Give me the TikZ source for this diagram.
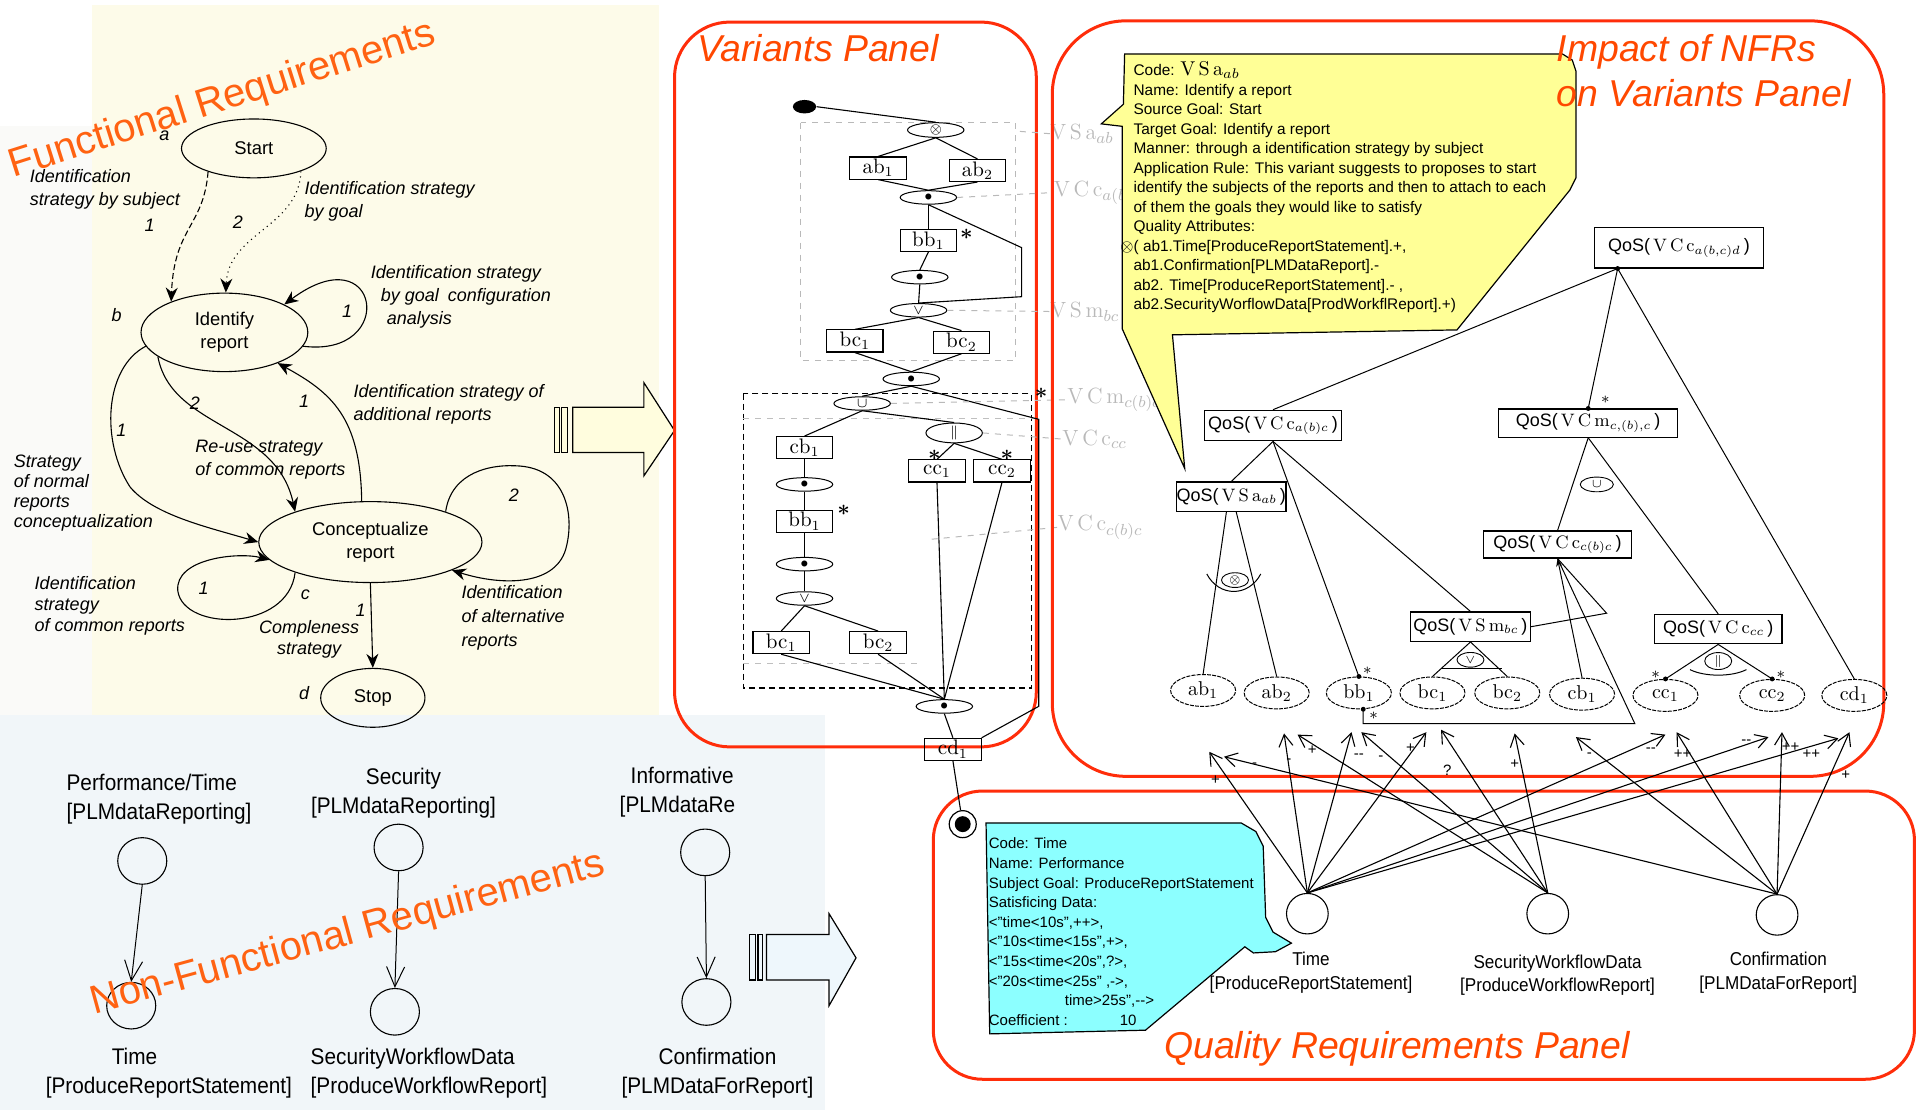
\documentclass[tikz,border=0pt]{standalone}
\usepackage{amsmath,amssymb}
\usepackage{fontspec}
\setsansfont{Liberation Sans}
\newfontfamily\narrowsf[FakeStretch=0.92]{Liberation Sans}
\usepackage{tikz}
\usetikzlibrary{shapes.geometric, arrows.meta, positioning}

\definecolor{frback}{RGB}{253,251,233}
\definecolor{nfrback}{RGB}{241,246,249}
\definecolor{sideback}{RGB}{250,250,248}
\definecolor{titleorange}{RGB}{255,98,18}
\definecolor{titlered}{RGB}{255,72,0}
\definecolor{panelred}{RGB}{255,45,10}
\definecolor{noteyellow}{RGB}{255,255,150}
\definecolor{notecyan}{RGB}{140,255,255}
\definecolor{codegrey}{RGB}{185,185,185}
\definecolor{arrowyellow}{RGB}{255,253,222}
\definecolor{arrowblue}{RGB}{238,247,252}

\newlength\dpx
\setlength\dpx{0.6132pt}
\newcommand{\qos}[1]{{\sffamily QoS(}\,#1\,{\sffamily)}}
\newcommand{\varcode}[2]{$\mathrm{#1}_{#2}$}

\begin{document}
\begin{tikzpicture}[
    x=0.6132pt, y=-0.6132pt,
    >=Stealth,
    panel/.style={draw=panelred, line width=1.5pt, rounded corners=#1},
    paneltitle/.style={text=titlered, font=\sffamily\itshape\fontsize{18.7}{22.7}\selectfont,
                       inner sep=0pt, anchor=base west, align=left},
    bigtitle/.style={text=titleorange, font=\sffamily\fontsize{20}{24}\selectfont,
                     inner sep=0pt, anchor=base},
    goal/.style={draw, ellipse, line width=0.55pt, inner sep=0pt, align=center,
                 font=\sffamily\fontsize{9.2}{11.5}\selectfont},
    strat/.style={font=\sffamily\itshape\fontsize{9}{11.5}\selectfont, align=left, inner sep=0pt},
    mapfl/.style={-{Stealth[length=7pt, width=6pt]}, line width=0.55pt},
    nfr/.style={draw, ellipse, line width=0.55pt, minimum width=40\dpx, minimum height=38\dpx,
                inner sep=0pt},
    nfrname/.style={font=\narrowsf\fontsize{11.3}{14.5}\selectfont, align=center, inner sep=0pt},
    nfrlink/.style={-{Straight Barb[length=10pt, width=9pt]}, line width=0.5pt},
    hollow/.style={draw, line width=0.6pt},
    vbox/.style={draw, rectangle, line width=0.55pt, minimum width=46\dpx, minimum height=18\dpx,
                 inner sep=0pt, font=\fontsize{10.5}{11}\selectfont},
    vop/.style={draw, ellipse, line width=0.5pt, minimum width=46\dpx, minimum height=11\dpx,
                inner sep=0pt, font=\fontsize{7}{7}\selectfont},
    vlink/.style={line width=0.55pt},
    vcode/.style={text=codegrey, font=\fontsize{11}{12}\selectfont, inner sep=0pt, anchor=west},
    leader/.style={draw=codegrey, dashed, line width=0.5pt},
    starmark/.style={font=\fontsize{11}{11}\selectfont, inner sep=0pt},
    qos/.style={draw, rectangle, line width=0.55pt, inner sep=0pt, font=\fontsize{9}{10}\selectfont},
    qleaf/.style={draw, ellipse, dash pattern=on 2pt off 0.6pt, line width=0.5pt, minimum width=53\dpx,
                  minimum height=26\dpx, inner sep=0pt, font=\fontsize{10}{11}\selectfont},
    qop/.style={draw, ellipse, line width=0.45pt, minimum width=22\dpx, minimum height=12\dpx,
                inner sep=0pt, font=\fontsize{6}{6}\selectfont},
    qlink/.style={line width=0.5pt},
    joint/.style={fill, circle, inner sep=0pt, minimum size=4\dpx},
    impact/.style={-{Straight Barb[length=6pt, width=7pt]}, line width=0.55pt},
    sign/.style={font=\sffamily\fontsize{7.5}{8}\selectfont, inner sep=0pt},
    softgoal/.style={draw, ellipse, line width=0.55pt, minimum width=34\dpx,
                     minimum height=33\dpx, inner sep=0pt},
    qname/.style={font=\narrowsf\fontsize{9.3}{11.7}\selectfont, align=center, inner sep=0pt},
    note/.style={font=\sffamily\fontsize{7.7}{9.75}\selectfont, align=left,
                 inner sep=0pt, anchor=north west},
]
\useasboundingbox (0,0) rectangle (1568,905);

% === backgrounds of the two requirement maps ===
\fill[sideback] (0,103) rectangle (75,583);
\fill[frback] (75,4) rectangle (537,583);
\fill[nfrback] (0,583) rectangle (673,905);

% === Functional requirements: intention/strategy map ===
\node[goal, minimum width=118\dpx, minimum height=48\dpx] (start) at (207,121) {Start};
\node[goal, minimum width=136\dpx, minimum height=64\dpx] (identify) at (183,271) {Identify\\report};
\node[goal, minimum width=182\dpx, minimum height=66\dpx] (concept) at (302,442) {Conceptualize\\report};
\node[goal, minimum width=85\dpx, minimum height=48\dpx] (stop) at (304,569) {Stop};

\draw[mapfl, dash pattern=on 3pt off 1.5pt] (start.207) .. controls (166,185) and (142,185) .. (identify.150);
\draw[mapfl, dotted] (start.334) .. controls (244,185) and (186,190) .. (identify.88);
\draw[mapfl] (identify.-10) .. controls (325,292) and (310,190) .. (identify.25);
\draw[mapfl] (identify.200) .. controls (140,350) and (225,345) .. (concept.158);
\draw[mapfl] (concept.102) .. controls (294,340) and (270,320) .. (identify.-30);
\draw[mapfl] (identify.190) .. controls (85,300) and (82,360) .. (106,397)
    .. controls (125,420) and (170,430) .. (concept.west);
\draw[mapfl] (concept.202) .. controls (235,515) and (150,515) .. (145,482)
    .. controls (142,455) and (195,450) .. (concept.190);
\draw[mapfl] (concept.22) .. controls (368,385) and (400,378) .. (424,380)
    .. controls (462,383) and (468,420) .. (462,445)
    .. controls (455,478) and (410,478) .. (concept.-19);
\draw[mapfl] (concept.south) -- (stop.north);

% section labels and strategy names
\node[strat] at (134,111) {a};
\node[strat] at (95,257) {b};
\node[strat] at (249,485) {c};
\node[strat] at (248,565) {d};
\node[strat] at (122,184) {1};
\node[strat] at (194,181) {2};
\node[strat] at (283,254) {1};
\node[strat] at (159,329) {2};
\node[strat] at (248,327) {1};
\node[strat] at (99,351) {1};
\node[strat] at (419,404) {2};
\node[strat] at (166,480) {1};
\node[strat] at (294,498) {1};
\node[strat, anchor=west] (sbysubj) at (24,154) {Identification\\strategy by subject};
\node[strat, anchor=west] (sbygoal) at (248,164) {Identification strategy\\by goal};
\node[strat, anchor=west] (sconfig) at (302,242)
    {Identification strategy\\\hspace*{5pt}by goal\enspace configuration\\\hspace*{8pt}analysis};
\node[strat, anchor=west] (sadd) at (288,330) {Identification strategy of\\additional reports};
\node[strat, anchor=west] (sreuse) at (159,375) {Re-use strategy\\of common reports};
\node[strat, anchor=west, font=\sffamily\itshape\fontsize{9}{10}\selectfont] (snormal) at (11,402)
    {Strategy\\of normal\\reports\\conceptualization};
\node[strat, anchor=west, font=\sffamily\itshape\fontsize{9}{10.7}\selectfont] (scommon) at (28,494)
    {Identification\\strategy\\of common reports};
\node[strat, align=center, font=\sffamily\itshape\fontsize{9}{10.4}\selectfont] (scomplete) at (252,521)
    {Compleness\\strategy};
\node[strat, anchor=west, font=\sffamily\itshape\fontsize{9}{12}\selectfont] (salt) at (376,504)
    {Identification\\of alternative\\reports};

% === Non-functional requirements ===
\node[nfr] (perf) at (116,702) {};
\node[nfr] (time) at (107,820) {};
\node[nfr] (secu) at (325,691) {};
\node[nfr] (swfd) at (322,825) {};
\node[nfr] (info) at (575,695) {};
\node[nfr] (conf) at (576,817) {};
\draw[nfrlink] (perf.south) -- (time.north);
\draw[nfrlink] (secu.south) -- (swfd.north);
\draw[nfrlink] (info.south) -- (conf.north);

\node[nfrname, align=left, anchor=west] at (54,652) {Performance/Time\\{}[PLMdataReporting]};
\node[nfrname] at (329,647) {Security\\{}[PLMdataReporting]};
\begin{scope}
  \clip (480,615) rectangle (600,675);
  \node[nfrname, align=left, anchor=west] at (505,646) {\hspace*{5.5pt}Informative\\{}[PLMdataReporting]};
\end{scope}
\node[nfrname, align=left, anchor=west] at (37,875) {\hspace*{33pt}Time\\{}[ProduceReportStatement]};
\node[nfrname, align=left, anchor=west] at (253,875) {SecurityWorkflowData\\{}[ProduceWorkflowReport]};
\node[nfrname] at (585,875) {Confirmation\\{}[PLMDataForReport]};

% === hollow arrows into the panels ===
\filldraw[hollow, fill=arrowyellow] (452,332) rectangle (456,369);
\filldraw[hollow, fill=arrowyellow] (458,332) rectangle (463,369);
\filldraw[hollow, fill=arrowyellow] (467,332) -- (525,332) -- (525,312) -- (550,351)
    -- (525,388) -- (525,369) -- (467,369) -- cycle;
\filldraw[hollow, fill=arrowblue] (611,762) rectangle (616,799);
\filldraw[hollow, fill=arrowblue] (618,762) rectangle (622,799);
\filldraw[hollow, fill=arrowblue] (625,762) -- (676,762) -- (676,745) -- (698,781)
    -- (676,820) -- (676,799) -- (625,799) -- cycle;

% === Variants panel ===
\draw[panel=45\dpx] (550,18) rectangle (845,609);
\node[paneltitle] at (568,50) {Variants Panel};

\draw[draw=gray!55, dashed, line width=0.5pt] (653,100) rectangle (828,294);
\draw[densely dashed, line width=0.6pt] (606,321) rectangle (841,561);
\draw[gray!50, dashed, line width=0.5pt] (606,341) -- (845,341);
\draw[gray!50, dashed, line width=0.5pt] (606,541) -- (748,541);

\node[fill, ellipse, minimum width=19\dpx, minimum height=11\dpx, inner sep=0pt] (vstart) at (656,87) {};
\node[vop] (vxor) at (763,106) {$\otimes$};
\node[vbox] (vab1) at (716,137) {ab$_1$};
\node[vbox] (vab2) at (797,139) {ab$_2$};
\node[vop] (vand1) at (757,161) {$\bullet$};
\node[vbox] (vbb1) at (757,196) {bb$_1$};
\node[vop] (vand2) at (750,226) {$\bullet$};
\node[vop] (vor1) at (749,253) {$\vee$};
\node[vbox] (vbc1) at (697,278) {bc$_1$};
\node[vbox] (vbc2) at (784,279) {bc$_2$};
\node[vop] (vand3) at (743,309) {$\bullet$};
\node[vop] (vunion) at (703,329) {$\cup$};
\node[vop] (vpar) at (778,353) {$\parallel$};
\node[vbox] (vcb1) at (656,365) {cb$_1$};
\node[vbox] (vcc1) at (764,384) {cc$_1$};
\node[vbox] (vcc2) at (817,384) {cc$_2$};
\node[vop] (vand4) at (656,395) {$\bullet$};
\node[vbox] (vbb1b) at (656,425) {bb$_1$};
\node[vop] (vand5) at (656,460) {$\bullet$};
\node[vop] (vor2) at (656,488) {$\vee$};
\node[vbox] (vbc1b) at (637,524) {bc$_1$};
\node[vbox] (vbc2b) at (716,524) {bc$_2$};
\node[vop] (vand6) at (770,576) {$\bullet$};
\node[vbox] (vcd1) at (777,611) {cd$_1$};

\node[starmark] at (788,191) {$\boldsymbol{\ast}$};
\node[starmark] at (762,371) {$\boldsymbol{\ast}$};
\node[starmark] at (821,371) {$\boldsymbol{\ast}$};
\node[starmark] at (688,416) {$\boldsymbol{\ast}$};
\node[starmark] at (849,321) {$\boldsymbol{\ast}$};

\draw[vlink] (vstart.east) -- (vxor.north);
\draw[vlink] (vxor.south) -- (vab1.north);
\draw[vlink] (vxor.south) -- (vab2.north);
\draw[vlink] (vab1.south) -- (vand1.north);
\draw[vlink] (vab2.south) -- (vand1.north);
\draw[vlink] (vand1.south) -- (vbb1.north);
\draw[vlink] (vand1.south) -- ++(76,35) -- ++(0,40) -- (vor1.north);
\draw[vlink] (vbb1.south) -- (vand2.north);
\draw[vlink] (vand2.south) -- (vor1.north);
\draw[vlink] (vor1.south) -- (vbc1.north);
\draw[vlink] (vor1.south) -- (vbc2.north);
\draw[vlink] (vbc1.south) -- (vand3.north);
\draw[vlink] (vbc2.south) -- (vand3.north);
\draw[vlink] (vand3.south) -- (vunion.north);
\draw[vlink] (vand3.south) -- ++(104,27) -- ++(0,234) -- (vcd1.north east);
\draw[vlink] (vunion.south) -- (vcb1.north);
\draw[vlink] (vunion.south) -- (vpar.north);
\draw[vlink] (vpar.south) -- (vcc1.north);
\draw[vlink] (vpar.south) -- (vcc2.north);
\draw[vlink] (vcb1) -- (vand4);
\draw[vlink] (vand4) -- (vbb1b);
\draw[vlink] (vbb1b) -- (vand5);
\draw[vlink] (vand5) -- (vor2);
\draw[vlink] (vor2.south) -- (vbc1b.north);
\draw[vlink] (vor2.south) -- (vbc2b.north);
\draw[vlink] (vbc1b.south) -- (vand6.north);
\draw[vlink] (vbc2b.south) -- (vand6.north);
\draw[vlink] (vcc1.south) -- (vand6.north);
\draw[vlink] (vcc2.south) -- (vand6.north);
\draw[vlink] (vand6.south) -- (vcd1.north);

% variant codes beside the map
\node[vcode] (cVSa) at (856,109) {\varcode{V\,S\,a}{ab}};
\node[vcode] (cVCca) at (859,157) {\varcode{V\,C\,c}{a(b)}};
\node[vcode] (cVSm) at (856,254) {\varcode{V\,S\,m}{bc}};
\node[vcode] (cVCm) at (870,326) {\varcode{V\,C\,m}{c(b)c}};
\node[vcode] (cVCcc) at (866,358) {\varcode{V\,C\,c}{cc}};
\node[vcode] (cVCcb) at (862,430) {\varcode{V\,C\,c}{c(b)c}};
\draw[leader] (cVSa.west) -- ++(-26,-2);
\draw[leader] (vand1.east) -- (cVCca.west);
\draw[leader] (vor1.east) -- (cVSm.west);
\draw[leader] (vunion.east) -- (cVCm.west);
\draw[leader] (vpar.east) -- (cVCcc.west);
\draw[leader] (cVCcb.west) -- ++(-106,10);

% === Impact of NFRs on variants ===
\draw[panel=60\dpx] (858,17) rectangle (1536,633);

\filldraw[fill=noteyellow, line width=0.6pt] (917,44) -- (1274,44) -- (1282,49) -- (1285,58)
    -- (1285,145) -- (1280,155) -- (1188,269) -- (956,273) -- (966,382) -- (915,268)
    -- (915,103) -- (898,101) -- (916,85) -- cycle;
\node[note] (vsanote) at (924,50) {Code: {\fontsize{10}{9.75}\selectfont\varcode{V\,S\,a}{ab}}\\
    Name: Identify a report\\
    Source Goal: Start\\
    Target Goal: Identify a report\\
    Manner: through a identification strategy by subject\\
    Application Rule: This variant suggests to proposes to start\\
    identify the subjects of the reports and then to attach to each\\
    of them the goals they would like to satisfy\\
    Quality Attributes:\\
    \llap{$\otimes$}( ab1.Time[ProduceReportStatement].+,\\
    ab1.Confirmation[PLMDataReport].-\\
    ab2. Time[ProduceReportStatement].- ,\\
    ab2.SecurityWorflowData[ProdWorkflReport].+)};
\node[paneltitle] at (1269,87) {Impact of NFRs\\on Variants Panel};

\node[qos, minimum width=138\dpx, minimum height=33\dpx] (qA) at (1369,202) {\qos{\varcode{V\,C\,c}{a(b,c)d}}};
\node[qos, minimum width=112\dpx, minimum height=25\dpx] (qB) at (1038,347) {\qos{\varcode{V\,C\,c}{a(b)c}}};
\node[qos, minimum width=87\dpx, minimum height=24\dpx] (qC) at (1004,405) {\qos{\varcode{V\,S\,a}{ab}}};
\node[qos, minimum width=146\dpx, minimum height=23\dpx] (qD) at (1295,345) {\qos{\varcode{V\,C\,m}{c,(b),c}}};
\node[qos, minimum width=121\dpx, minimum height=22\dpx] (qE) at (1270,444) {\qos{\varcode{V\,C\,c}{c(b)c}}};
\node[qos, minimum width=98\dpx, minimum height=24\dpx] (qF) at (1199,511) {\qos{\varcode{V\,S\,m}{bc}}};
\node[qos, minimum width=104\dpx, minimum height=24\dpx] (qG) at (1401,513) {\qos{\varcode{V\,C\,c}{cc}}};

\node[qleaf] (eab1) at (981,563) {ab$_1$};
\node[qleaf] (eab2) at (1041,565) {ab$_2$};
\node[qleaf] (ebb1) at (1108,565) {bb$_1$};
\node[qleaf] (ebc1) at (1168,565) {bc$_1$};
\node[qleaf] (ebc2) at (1229,565) {bc$_2$};
\node[qleaf] (ecb1) at (1290,566) {cb$_1$};
\node[qleaf] (ecc1) at (1358,567) {cc$_1$};
\node[qleaf] (ecc2) at (1445,567) {cc$_2$};
\node[qleaf] (ecd1) at (1512,567) {cd$_1$};

\coordinate (qAfoot) at ([xshift=-50\dpx]qA.south);
\draw[qlink] (qAfoot) -- (qB.north);
\draw[qlink] (qAfoot) -- (qD.north);
\draw[qlink] (qAfoot) -- (ecd1.north);
\draw[qlink] (qB.south) -- (qC.north);
\draw[qlink] (qB.south) -- (ebb1.north);
\draw[qlink] (qB.south) -- (qF.north);
\draw[qlink] ([xshift=-4\dpx]qC.south) -- (eab1.north);
\draw[qlink] ([xshift=4\dpx]qC.south) -- (eab2.north);
\draw[qlink] (qF.south) -- (ebc1.north);
\draw[qlink] (qF.south) -- (ebc2.north);
\draw[qlink] (qD.south) -- (qE.north);
\draw[qlink] (qD.south) -- (qG.north);
\draw[qlink] (qG.south) -- (ecc1.north);
\draw[qlink] (qG.south) -- (ecc2.north);
\draw[qlink, {Stealth[length=4pt, width=3pt]}-] (qE.south) -- (ecb1.north);
\coordinate (qEvert) at (1310,500);
\coordinate (qEcorner) at (1333,590);
\draw[qlink] (qF.east) -- (qEvert) -- (qE.south);
\draw[qlink] (qE.south) -- (qEcorner) -- (ebb1.-75 |- qEcorner) -- (ebb1.-75);

% aggregation operators on the QoS tree
\node[qop] (xorC) at (1007,473) {$\otimes$};
\draw[qlink] (984,468) .. controls (994,487) and (1018,487) .. (1028,468);
\node[qop] (orF) at (1199,538) {$\vee$};
\draw[qlink] (1175,545) -- (1225,545);
\node[qop, minimum width=27\dpx] (unionD) at (1302,395) {$\cup$};
\node[qop] (parG) at (1401,539) {$\parallel$};
\draw[qlink] (1378,546) .. controls (1390,552) and (1412,552) .. (1424,546);

\node[joint] at (qAfoot) {};
\node[joint] at (qD.north) {};
\node[joint] at (ebb1.north) {};
\node[joint] at (ebb1.-75) {};
\node[joint] at (ecc1.north) {};
\node[joint] at (ecc2.north) {};
\node[starmark, font=\fontsize{8}{8}\selectfont] at (1309,326) {$\ast$};
\node[starmark, font=\fontsize{8}{8}\selectfont] at (1115,547) {$\ast$};
\node[starmark, font=\fontsize{8}{8}\selectfont] at (1120,584) {$\ast$};
\node[starmark, font=\fontsize{8}{8}\selectfont] at (1350,550) {$\ast$};
\node[starmark, font=\fontsize{8}{8}\selectfont] at (1452,550) {$\ast$};

% === Quality requirements panel ===
\draw[panel=40\dpx] (761,645) rectangle (1561,880);
\node[paneltitle] at (949,863) {Quality Requirements Panel};

\node[circle, draw, line width=0.6pt, minimum size=22\dpx, inner sep=0pt] (bull) at (785,672) {};
\node[circle, fill, minimum size=13\dpx, inner sep=0pt] at (bull) {};
\draw[vlink] (vcd1.south) -- (bull);

\filldraw[fill=notecyan, line width=0.6pt] (804,671) -- (1012,671) -- (1024,678) -- (1030,690)
    -- (1032,748) -- (1038,760) -- (1053,769) -- (1040,776) -- (1022,777) -- (1015,772)
    -- (934,840) -- (807,843) -- cycle;
\node[note, font=\sffamily\fontsize{7.5}{9.8}\selectfont] (timenote) at (806,683) {Code: Time\\
    Name: Performance\\
    Subject Goal: ProduceReportStatement\\
    Satisficing Data:\\
    <"time<10s",++>,\\
    <"10s<time<15s",+>,\\
    <"15s<time<20s",?>,\\
    <"20s<time<25s" ,->,\\
    \hspace*{38pt}time>25s",-{}->\\
    Coefficient :\hspace{26pt}10};

\node[softgoal] (qtime) at (1066,745) {};
\node[softgoal] (qsec) at (1262,745) {};
\node[softgoal] (qconf) at (1449,746) {};
\node[qname] at (1069,793) {Time\\{}[ProduceReportStatement]};
\node[qname] at (1270,795) {SecurityWorkflowData\\{}[ProduceWorkflowReport]};
\node[qname] at (1450,793) {Confirmation\\{}[PLMDataForReport]};

% contributions of the softgoals to the variants
\foreach \i/\src/\tx/\ty/\lab/\lx/\ly in {
    1/qtime/986/613/+/991/636,
    2/qtime/1047/598/-/1051/621,
    3/qtime/1102/597/{-{}-}/1108/617,
    4/qtime/1163/597/+/1150/610,
    5/qtime/1358/599/{-{}-}/1346/612,
    6/qtime/1442/601/{-{}-}/1424/605,
    7/qtime/1499/602/++/1477/615,
    8/qsec/1058/599/+/1070/612,
    9/qsec/1110/597/-/1126/618,
    10/qsec/1175/595/?/1180/628,
    11/qsec/1235/598/+/1235/623,
    12/qconf/998/617/-/1023/624,
    13/qconf/1285/601/-/1296/616,
    14/qconf/1367/597/++/1372/615,
    15/qconf/1453/597/++/1460/609,
    16/qconf/1508/597/+/1505/632}{
  \coordinate (tip\i) at (\tx,\ty);
  \draw[impact] (\src.north) -- (tip\i);
  \node[sign] at (\lx,\ly) {\lab};
}

% === titles of the requirement maps ===
\node[bigtitle, rotate=17.6] at (184,90) {Functional Requirements};
\node[bigtitle, rotate=15.3] at (286,770) {Non-Functional Requirements};

\end{tikzpicture}
\end{document}
